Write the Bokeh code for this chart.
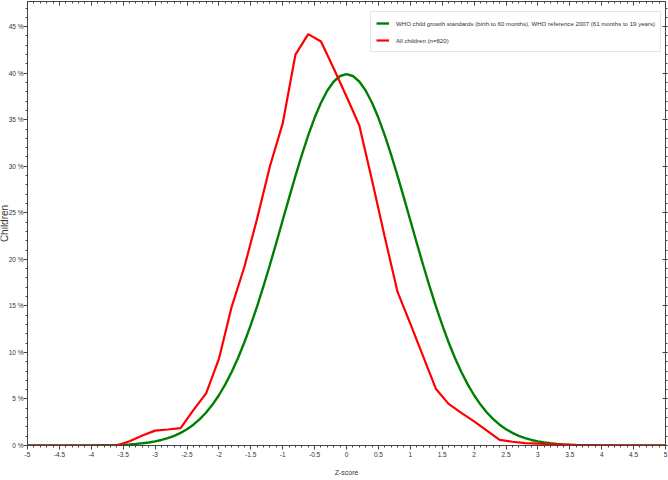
import numpy as np
from bokeh.plotting import figure
from bokeh.models import (FixedTicker, LinearAxis, CustomJSTickFormatter, Legend,
                          LegendItem, Range1d, ColumnDataSource)
from bokeh.core.properties import value
from bokeh.embed import file_html
from bokeh.resources import INLINE

# WHO reference distribution (% of children by z-score)
who_z = [-5.0, -4.5, -4.2, -4.0, -3.9, -3.8, -3.7, -3.6, -3.5, -3.4, -3.3, -3.2, -3.1, -3.0,
         -2.9, -2.8, -2.7, -2.6, -2.5, -2.4, -2.3, -2.2, -2.1, -2.0, -1.9, -1.8, -1.7, -1.6,
         -1.5, -1.4, -1.3, -1.2, -1.1, -1.0, -0.9, -0.8, -0.7, -0.6, -0.5, -0.4, -0.3, -0.2,
         -0.1, 0.0, 0.1, 0.2, 0.3, 0.4, 0.5, 0.6, 0.7, 0.8, 0.9, 1.0, 1.1, 1.2, 1.3, 1.4,
         1.5, 1.6, 1.7, 1.8, 1.9, 2.0, 2.1, 2.2, 2.3, 2.4, 2.5, 2.6, 2.7, 2.8, 2.9, 3.0,
         3.1, 3.2, 3.3, 3.4, 3.5, 3.6, 3.7, 3.8, 3.9, 4.0, 4.2, 4.5, 5.0]
who_pct = [0.0, 0.002, 0.006, 0.013, 0.020, 0.029, 0.042, 0.061, 0.087, 0.123, 0.172, 0.238, 0.327, 0.443,
           0.595, 0.792, 1.042, 1.358, 1.753, 2.239, 2.833, 3.547, 4.398, 5.399, 6.562, 7.895, 9.405, 11.092,
           12.952, 14.973, 17.137, 19.419, 21.785, 24.197, 26.609, 28.969, 31.225, 33.322, 35.207, 36.827, 38.139, 39.104,
           39.695, 39.894, 39.695, 39.104, 38.139, 36.827, 35.207, 33.322, 31.225, 28.969, 26.609, 24.197, 21.785, 19.419, 17.137, 14.973,
           12.952, 11.092, 9.405, 7.895, 6.562, 5.399, 4.398, 3.547, 2.833, 2.239, 1.753, 1.358, 1.042, 0.792, 0.595, 0.443,
           0.327, 0.238, 0.172, 0.123, 0.087, 0.061, 0.042, 0.029, 0.020, 0.013, 0.006, 0.002, 0.0]

# All children (n=820)
all_z = [-5.0, -3.6, -3.4, -3.2, -3.0, -2.8, -2.6, -2.4, -2.2, -2.0, -1.8, -1.6, -1.4,
         -1.2, -1.0, -0.8, -0.6, -0.4, -0.2, 0.0, 0.2, 0.4, 0.6, 0.8, 1.0, 1.2, 1.4,
         1.6, 1.8, 2.0, 2.2, 2.4, 2.6, 2.8, 3.0, 3.2, 3.4, 3.6, 5.0]
all_pct = [0.0, 0.0, 0.45, 1.07, 1.6, 1.72, 1.86, 3.8, 5.6, 9.3, 14.9, 19.2, 24.4,
           30.0, 34.6, 42.0, 44.2, 43.4, 40.5, 37.5, 34.4, 28.5, 22.4, 16.5, 13.1, 9.6, 6.1,
           4.47, 3.5, 2.6, 1.6, 0.6, 0.4, 0.25, 0.2, 0.15, 0.1, 0.05, 0.0]

x_ticks = [-5, -4.5, -4, -3.5, -3, -2.5, -2, -1.5, -1, -0.5, 0, 0.5, 1, 1.5, 2, 2.5, 3, 3.5, 4, 4.5, 5]
y_ticks = [0, 5, 10, 15, 20, 25, 30, 35, 40, 45]

legend_labels = ["WHO child growth standards (birth to 60 months), WHO reference 2007 (61 months to 19 years)",
                 "All children (n=820)"]
x_title = "Z-score"
y_title = "Children"

FONT = "Liberation Sans"
AXIS_COLOR = "#444444"
TEXT_COLOR = "#333333"
W, H = 668, 480

p = figure(width=W, height=H, output_backend="svg", toolbar_location=None,
           x_range=Range1d(-5, 5), y_range=Range1d(0, 47.7),
           min_border_left=27, min_border_right=3, min_border_top=1, min_border_bottom=35,
           x_axis_label=x_title)
p.styles = {"position": "absolute", "left": "0px", "top": "0px"}
p.xgrid.visible = False
p.ygrid.visible = False
p.outline_line_color = None
p.background_fill_color = "white"
p.border_fill_color = "white"

x_minor = list(np.round(np.arange(-5, 5.001, 0.1), 2))
y_minor = list(range(0, 48))

xt = FixedTicker(ticks=x_ticks, minor_ticks=x_minor)
yt = FixedTicker(ticks=y_ticks, minor_ticks=y_minor)

xfmt = CustomJSTickFormatter(code="return String(tick);")
yfmt = CustomJSTickFormatter(code="return tick + ' %';")

for ax in p.xaxis:
    ax.ticker = xt
    ax.formatter = xfmt
    ax.major_tick_out = 4
    ax.major_tick_in = 0
    ax.minor_tick_out = 2
    ax.minor_tick_in = 0
    ax.major_label_standoff = 2
    ax.axis_label_standoff = 9
    ax.major_label_text_font = FONT
    ax.major_label_text_font_size = "6.5px"
    ax.major_label_text_color = TEXT_COLOR
    ax.axis_label_text_font = FONT
    ax.axis_label_text_font_size = "7px"
    ax.axis_label_text_font_style = "normal"
    ax.axis_label_text_color = TEXT_COLOR
    ax.axis_line_color = AXIS_COLOR
    ax.major_tick_line_color = AXIS_COLOR
    ax.minor_tick_line_color = AXIS_COLOR

for ax in p.yaxis:
    ax.ticker = yt
    ax.formatter = yfmt
    ax.major_tick_out = 4
    ax.major_tick_in = 0
    ax.minor_tick_out = 2
    ax.minor_tick_in = 0
    ax.major_label_standoff = 0
    ax.major_label_text_font = FONT
    ax.major_label_text_font_size = "6.5px"
    ax.major_label_text_color = TEXT_COLOR
    ax.axis_line_color = AXIS_COLOR
    ax.major_tick_line_color = AXIS_COLOR
    ax.minor_tick_line_color = AXIS_COLOR

blank = CustomJSTickFormatter(code="return '';")
top = LinearAxis(ticker=xt, formatter=blank, major_label_standoff=0, axis_label_standoff=0,
                 major_tick_in=4, major_tick_out=0, minor_tick_in=2, minor_tick_out=0,
                 axis_line_color=AXIS_COLOR, major_tick_line_color=AXIS_COLOR,
                 minor_tick_line_color=AXIS_COLOR)
right = LinearAxis(ticker=yt, formatter=blank, major_label_standoff=0, axis_label_standoff=0,
                   major_tick_in=3, major_tick_out=2, minor_tick_in=0, minor_tick_out=2,
                   axis_line_color=AXIS_COLOR, major_tick_line_color=AXIS_COLOR,
                   minor_tick_line_color=AXIS_COLOR)
p.add_layout(top, "above")
p.add_layout(right, "right")

who_src = ColumnDataSource(dict(z=who_z, pct=who_pct))
all_src = ColumnDataSource(dict(z=all_z, pct=all_pct))

g = p.line("z", "pct", source=who_src, line_color="#008000", line_width=2.4)
r = p.line("z", "pct", source=all_src, line_color="#ff0000", line_width=2.2)

legend = Legend(items=[LegendItem(label=legend_labels[0], renderers=[g]),
                       LegendItem(label=legend_labels[1], renderers=[r])],
                location=(343, 393), orientation="vertical",
                label_text_font=FONT, label_text_font_size="6.1px",
                label_text_color=TEXT_COLOR,
                glyph_width=13, glyph_height=12, label_height=12, label_standoff=7,
                spacing=5, padding=5, margin=0,
                border_line_color="#cccccc", border_line_width=1,
                background_fill_color="white", background_fill_alpha=1.0)
p.add_layout(legend)

# full-size transparent overlay whose frame is the whole canvas (coordinates = page pixels)
lab = figure(width=W, height=H, output_backend="svg", toolbar_location=None,
             x_range=Range1d(0, W), y_range=Range1d(0, H),
             min_border=0, min_border_left=0, min_border_right=0,
             min_border_top=0, min_border_bottom=0)
lab.styles = {"position": "absolute", "left": "0px", "top": "0px"}
lab.axis.visible = False
lab.grid.visible = False
lab.outline_line_color = None
lab.background_fill_alpha = 0
lab.border_fill_alpha = 0
lab.text(x=[3.5], y=[H - 223], text=[y_title], angle=np.pi / 2,
         text_align="center", text_baseline="alphabetic",
         text_font=value(FONT), text_font_size="10px", text_color=TEXT_COLOR)

open("out.html", "w").write(file_html([p, lab], INLINE))
